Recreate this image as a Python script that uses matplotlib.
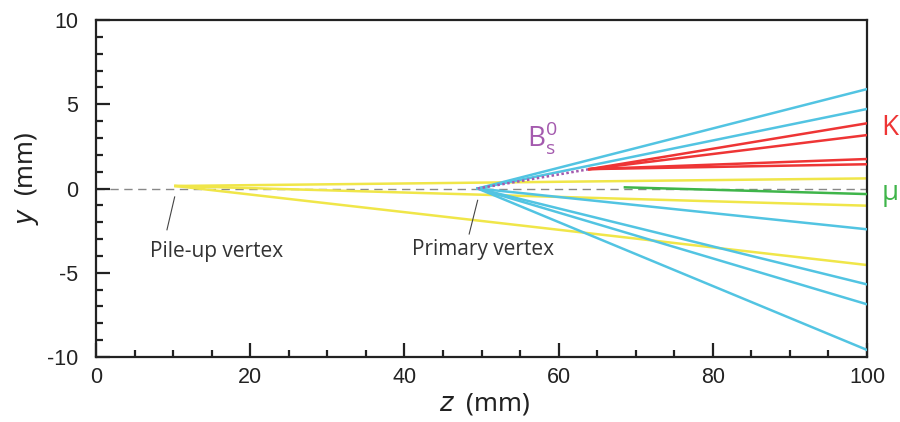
'''
Event display: tracks from a pile-up vertex and a primary vertex with a Bs0 decay
'''

import matplotlib
matplotlib.use('Agg')
import matplotlib.pyplot as plt
from matplotlib.ticker import MultipleLocator

plt.rcParams['axes.unicode_minus'] = False

# vertices (z, y) in mm
PU_VTX = (10.3, 0.15)
PV_VTX = (49.5, 0.0)
BS_VTX = (64.0, 1.15)

Z_END = 100.0

# y (mm) at z = 100 for each track family
pileup_y_end = [0.6, -1.02, -4.54]
primary_y_end = [5.9, 4.72, -2.42, -5.69, -6.87, -9.58]
kaon_y_end = [3.87, 3.17, 1.75, 1.44]
muon_start = (68.6, 0.07)
muon_y_end = [-0.33]

YELLOW = '#f0e649'
CYAN = '#52c4e2'
RED = '#ee3535'
GREEN = '#3fb54a'
PURPLE = '#a45aae'
TEXT = '#333333'

fig = plt.figure(figsize=(9, 4.22), dpi=100)
ax = fig.add_axes([0.1067, 0.154, 0.8566, 0.7986])

# beam axis
ax.plot([0, Z_END], [0, 0], color='#888888', lw=1.0, ls=(0, (6, 4)), zorder=1)

for y1 in pileup_y_end:
    ax.plot([PU_VTX[0], Z_END], [PU_VTX[1], y1], color=YELLOW, lw=1.8, zorder=2)

for y1 in primary_y_end:
    ax.plot([PV_VTX[0], Z_END], [PV_VTX[1], y1], color=CYAN, lw=1.8, zorder=3)

# Bs0 flight path
ax.plot([PV_VTX[0], BS_VTX[0]], [PV_VTX[1], BS_VTX[1]], color=PURPLE, lw=1.8,
        ls=(0, (1, 1)), zorder=4)

for y1 in kaon_y_end:
    ax.plot([BS_VTX[0], Z_END], [BS_VTX[1], y1], color=RED, lw=1.8, zorder=4)

for y1 in muon_y_end:
    ax.plot([muon_start[0], Z_END], [muon_start[1], y1], color=GREEN, lw=1.8, zorder=4)

ax.set_xlim(0, 100)
ax.set_ylim(-10, 10)
ax.xaxis.set_major_locator(MultipleLocator(20))
ax.xaxis.set_minor_locator(MultipleLocator(5))
ax.yaxis.set_major_locator(MultipleLocator(5))
ax.yaxis.set_minor_locator(MultipleLocator(1))

for s in ax.spines.values():
    s.set_linewidth(1.6)
    s.set_color('#222222')

ax.tick_params(which='both', direction='in', top=False, right=False,
               color='#222222', width=1.6)
ax.tick_params(which='major', length=10)
ax.tick_params(which='minor', length=5)
ax.tick_params(axis='x', which='major', pad=7)
ax.tick_params(axis='y', which='major', pad=13)
for lab in ax.get_xticklabels() + ax.get_yticklabels():
    lab.set_fontfamily('Liberation Sans')
    lab.set_fontsize(15.5)
    lab.set_color('#222222')

ax.set_xlabel(r'$z$  (mm)', fontsize=18.5, family='Noto Sans', color='#222222')
ax.set_ylabel(r'$y$  (mm)', fontsize=18.5, family='Noto Sans', color='#222222')
ax.xaxis.set_label_coords(0.5045, -0.1)
ax.yaxis.set_label_coords(-0.072, 0.53)

# vertex labels with leader lines
ax.plot([10.2, 9.2], [-0.5, -2.45], color='#444444', lw=0.8, zorder=5)
ax.text(7.0, -4.05, 'Pile-up vertex', fontsize=15, family='Open Sans',
        color=TEXT, va='baseline', ha='left')
ax.plot([49.5, 48.4], [-0.7, -2.7], color='#444444', lw=0.8, zorder=5)
ax.text(41.0, -3.95, 'Primary vertex', fontsize=15, family='Open Sans',
        color=TEXT, va='baseline', ha='left')

ax.text(55.9, 2.48, r'B$_\mathregular{s}^\mathregular{0}$', fontsize=20,
        family='Open Sans', color=PURPLE, va='baseline', ha='left')
ax.text(101.9, 3.17, 'K', fontsize=20, family='Open Sans', color=RED,
        va='baseline', ha='left', clip_on=False)
ax.text(101.9, -0.68, 'μ', fontsize=20, family='Open Sans', color=GREEN,
        va='baseline', ha='left', clip_on=False)

fig.savefig('out.png', dpi=100)
